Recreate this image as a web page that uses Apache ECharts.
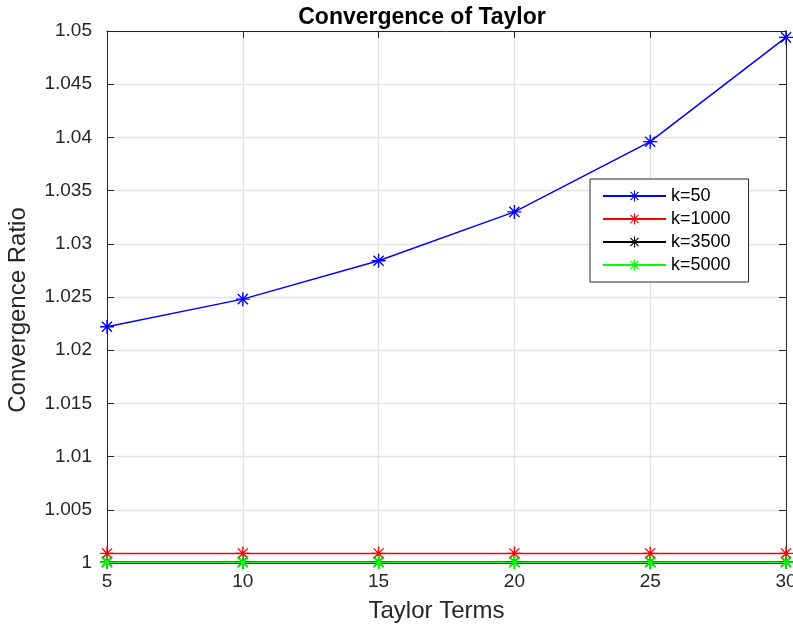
<!DOCTYPE html>
<html>
<head>
<meta charset="utf-8">
<script src="https://cdn.jsdelivr.net/npm/echarts@6/dist/echarts.min.js"></script>
<style>html,body{margin:0;padding:0;background:#fff;overflow:hidden;}#c{width:793px;height:625px;}</style>
</head>
<body>
<div id="c"></div>
<script>
var terms = [5, 10, 15, 20, 25, 30];
var k50 = [1.0222, 1.0248, 1.0284, 1.0330, 1.0396, 1.0494];
var k1000 = [1.0009, 1.0009, 1.0009, 1.0009, 1.0009, 1.0009];
var k3500 = [1.0001, 1.0001, 1.0001, 1.0001, 1.0001, 1.0001];
var k5000 = [1.00007, 1.00007, 1.00007, 1.00007, 1.00007, 1.00007];
var seriesNames = ['k=50', 'k=1000', 'k=3500', 'k=5000'];
var seriesColors = ['#0000ff', '#ff0000', '#000000', '#00ff00'];
var seriesValues = [k50, k1000, k3500, k5000];

var star = 'path://M9,0L11,0L11,20L9,20Z M0,9L20,9L20,11L0,11Z M2.1,3.5L3.5,2.1L17.9,16.5L16.5,17.9Z M16.5,2.1L17.9,3.5L3.5,17.9L2.1,16.5Z';

var ink = '#262626';
var FONT = 'Liberation Sans, Arial, sans-serif';
var chart = echarts.init(document.getElementById('c'), null, {renderer: 'canvas'});
var series = seriesNames.map(function (n, i) {
  return {
    name: n, type: 'line',
    data: terms.map(function (t, j) { return [t, seriesValues[i][j]]; }),
    symbol: star, symbolSize: 14, showAllSymbol: true,
    lineStyle: {color: seriesColors[i], width: 1.5},
    itemStyle: {color: seriesColors[i], borderWidth: 0},
    animation: false
  };
});
chart.setOption({
  animation: false,
  backgroundColor: '#fff',
  title: {
    text: 'Convergence of Taylor', left: 417, top: 1, textAlign: 'center',
    textStyle: {fontFamily: FONT, fontWeight: 'bold', fontSize: 23, color: '#000'}
  },
  legend: {
    orient: 'vertical', left: 590, top: 179,
    padding: [8, 18, 8, 12], itemGap: 5, itemWidth: 63, itemHeight: 14,
    backgroundColor: '#fff', borderColor: ink, borderWidth: 1,
    textStyle: {fontFamily: FONT, fontSize: 18, color: '#000'},
    data: seriesNames
  },
  grid: {left: 107, right: 7, top: 31, bottom: 62, containLabel: false, outerBoundsMode: 'none'},
  xAxis: [{
    type: 'value', min: 5, max: 30, interval: 5,
    name: 'Taylor Terms', nameLocation: 'middle', nameGap: 36,
    nameTextStyle: {fontFamily: FONT, fontSize: 24, color: ink, padding: [0, 20, 0, 0]},
    axisLine: {onZero: false, lineStyle: {color: ink, width: 1}},
    axisTick: {inside: true, length: 7, lineStyle: {color: ink}},
    axisLabel: {margin: 9, fontFamily: FONT, fontSize: 19, color: ink},
    splitLine: {show: true, lineStyle: {color: '#e3e3e3', width: 1.3}}
  }, {
    type: 'value', min: 5, max: 30, interval: 5, position: 'top',
    axisLine: {onZero: false, lineStyle: {color: ink, width: 1}},
    axisTick: {inside: true, length: 7, lineStyle: {color: ink}},
    axisLabel: {show: false}, splitLine: {show: false}
  }],
  yAxis: [{
    type: 'value', min: 1, max: 1.05, interval: 0.005,
    name: 'Convergence Ratio', nameLocation: 'middle', nameGap: 77,
    nameTextStyle: {fontFamily: FONT, fontSize: 24, color: ink, padding: [0, 26, 0, 0]},
    axisLine: {show: true, onZero: false, lineStyle: {color: ink, width: 1}},
    axisTick: {show: true, inside: true, length: 7, lineStyle: {color: ink}},
    axisLabel: {
      margin: 15, fontFamily: FONT, fontSize: 19, color: ink,
      formatter: function (v) { return parseFloat(v.toFixed(3)).toString(); }
    },
    splitLine: {show: true, lineStyle: {color: '#e3e3e3', width: 1.3}}
  }, {
    type: 'value', min: 1, max: 1.05, interval: 0.005, position: 'right',
    axisLine: {show: true, onZero: false, lineStyle: {color: ink, width: 1}},
    axisTick: {show: true, inside: true, length: 7, lineStyle: {color: ink}},
    axisLabel: {show: false}, splitLine: {show: false}
  }],
  series: series
});
</script>
</body>
</html>
